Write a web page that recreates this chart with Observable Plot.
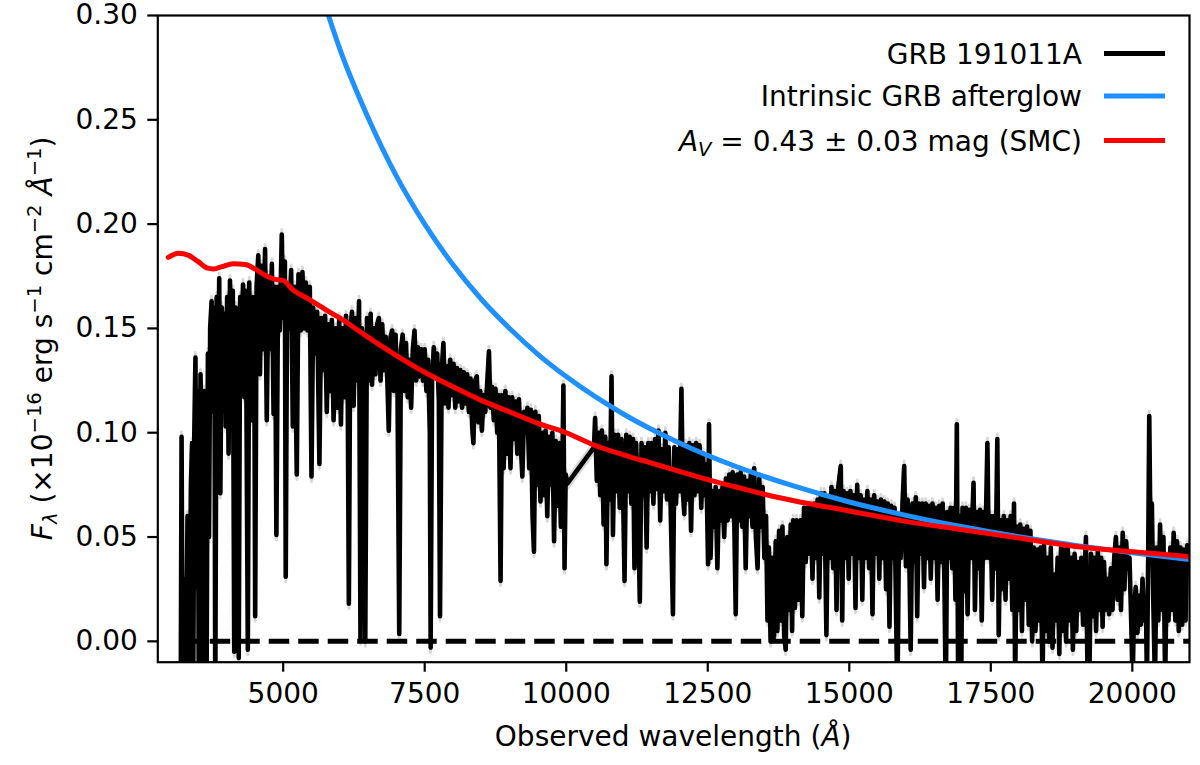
<!DOCTYPE html>
<html><head><meta charset="utf-8">
<script src="https://cdn.jsdelivr.net/npm/d3@7"></script>
<script src="https://cdn.jsdelivr.net/npm/@observablehq/plot@0.6"></script>
<style>html,body{margin:0;padding:0;background:#fff;overflow:hidden} svg{display:block}</style>
</head><body><div id="chart"></div>
<script>
const xTicks = [5000, 7500, 10000, 12500, 15000, 17500, 20000];
const yTicks = [0, 0.05, 0.10, 0.15, 0.20, 0.25, 0.30];

// Observed spectrum [wavelength (Å), flux]: UVB, VIS and NIR arms
const uvbArm = [[3190,-0.03],[3205,0.098],[3225,-0.03],[3250,0.03],[3280,-0.03],[3310,0.06],[3340,-0.03],[3370,0.075],[3390,0.095],[3410,-0.03],[3430,0.10],[3450,0.136],[3470,0.026],[3490,0.12],[3510,-0.03],[3540,0.128],[3560,0.09],[3580,-0.03],[3600,0.12],[3620,0.10],[3645,-0.03],[3670,0.138],[3690,0.05],[3710,0.15],[3735,0.163],[3760,0.11],[3785,0.16],[3800,-0.03],[3825,0.165],[3850,0.12],[3870,0.174],[3890,0.071],[3915,0.16],[3945,0.12],[3965,0.157],[3985,0.103],[4010,0.165],[4035,0.09],[4060,0.173],[4085,0.13],[4110,0.168],[4135,-0.005],[4160,0.16],[4180,0.12],[4200,0.159],[4215,-0.008],[4240,0.165],[4265,0.14],[4290,0.171],[4315,0.117],[4340,0.168],[4375,-0.004],[4400,0.172],[4430,0.106],[4460,0.165],[4490,0.14],[4505,0.012],[4530,0.17],[4560,0.185],[4590,0.128],[4620,0.18],[4650,0.14],[4680,0.188],[4710,0.106],[4740,0.175],[4770,0.14],[4800,0.181],[4830,0.109],[4855,0.17],[4880,0.051],[4910,0.17],[4940,0.149],[4975,0.195],[5000,0.155],[5030,0.182],[5045,0.031],[5070,0.17],[5100,0.15],[5140,0.178],[5170,0.103],[5200,0.17],[5240,0.080],[5270,0.176],[5310,0.149],[5340,0.177],[5370,0.15],[5400,0.172],[5430,0.149],[5470,0.17],[5500,0.079],[5530,0.160],[5560,0.138],[5600,0.158]];
const visArm = [[5640,0.085],[5670,0.155],[5700,0.13],[5740,0.156],[5770,0.11],[5800,0.152],[5830,0.12],[5860,0.154],[5890,0.106],[5930,0.150],[5960,0.112],[5990,0.155],[6020,0.104],[6050,0.150],[6080,0.117],[6110,0.156],[6140,0.120],[6160,0.018],[6185,0.150],[6215,0.158],[6245,0.113],[6275,0.155],[6310,0.125],[6340,0.163],[6365,0.001],[6390,0.150],[6420,0.140],[6450,0.000],[6480,0.155],[6510,0.125],[6545,0.157],[6570,0.123],[6600,0.150],[6630,0.128],[6660,0.152],[6690,0.155],[6720,0.125],[6750,0.152],[6780,0.130],[6810,0.146],[6840,0.125],[6865,0.101],[6895,0.146],[6925,0.149],[6955,0.12],[6985,0.147],[7020,0.118],[7050,0.0035],[7080,0.14],[7110,0.147],[7140,0.12],[7170,0.143],[7200,0.117],[7230,0.135],[7260,0.112],[7290,0.14],[7320,0.149],[7350,0.125],[7380,0.141],[7410,0.127],[7440,0.14],[7470,0.125],[7500,0.14],[7530,0.12],[7560,0.135],[7590,0.10],[7605,-0.003],[7630,0.125],[7660,0.141],[7690,0.128],[7720,0.138],[7750,0.115],[7770,0.012],[7800,0.130],[7830,0.143],[7860,0.114],[7890,0.132],[7920,0.112],[7950,0.135],[7980,0.118],[8010,0.133],[8040,0.112],[8070,0.131],[8100,0.115],[8130,0.130],[8160,0.112],[8190,0.129],[8220,0.114],[8250,0.128],[8280,0.110],[8310,0.126],[8340,0.102],[8360,0.095],[8390,0.125],[8420,0.127],[8450,0.105],[8480,0.120],[8510,0.101],[8540,0.118],[8570,0.110],[8600,0.122],[8635,0.139],[8660,0.112],[8690,0.122],[8720,0.106],[8750,0.121],[8780,0.100],[8810,0.118],[8840,0.029],[8865,0.118],[8895,0.083],[8925,0.120],[8955,0.090],[8985,0.117],[9015,0.083],[9045,0.117],[9075,0.097],[9105,0.115],[9135,0.090],[9165,0.116],[9195,0.095],[9225,0.079],[9255,0.110],[9285,0.100],[9315,0.112],[9345,0.083],[9375,0.111],[9405,0.060],[9430,0.043],[9455,0.110],[9485,0.075],[9515,0.108],[9545,0.067],[9575,0.100],[9605,0.070],[9635,0.101],[9665,0.060],[9695,0.098],[9725,0.075],[9755,0.100],[9785,0.048],[9815,0.096],[9845,0.065],[9875,0.095],[9905,0.055],[9935,0.090],[9950,0.1226],[9970,0.035],[9990,0.080],[10019,0.0756]];
const nirArm = [[10490,0.093],[10510,0.107],[10540,0.077],[10570,0.100],[10600,0.070],[10630,0.101],[10660,0.056],[10690,0.098],[10710,0.037],[10740,0.095],[10770,0.068],[10800,0.127],[10825,0.051],[10855,0.099],[10885,0.072],[10915,0.099],[10945,0.064],[10975,0.097],[11005,0.070],[11030,0.029],[11060,0.099],[11090,0.072],[11120,0.098],[11150,0.066],[11180,0.097],[11205,0.035],[11235,0.095],[11265,0.068],[11300,0.019],[11330,0.095],[11360,0.070],[11390,0.093],[11420,0.045],[11450,0.095],[11480,0.072],[11510,0.095],[11540,0.066],[11570,0.097],[11600,0.073],[11630,0.101],[11660,0.058],[11690,0.092],[11720,0.072],[11750,0.100],[11780,0.068],[11810,0.093],[11840,0.070],[11885,0.013],[11910,0.093],[11940,0.066],[11970,0.092],[12000,0.072],[12035,0.121],[12060,0.072],[12085,0.061],[12115,0.094],[12145,0.068],[12175,0.095],[12205,0.053],[12235,0.094],[12265,0.070],[12295,0.095],[12325,0.072],[12355,0.094],[12385,0.064],[12415,0.090],[12445,0.070],[12475,0.085],[12505,0.037],[12522,0.104],[12550,0.040],[12580,0.072],[12610,0.055],[12640,0.074],[12670,0.035],[12700,0.072],[12730,0.058],[12760,0.074],[12790,0.050],[12820,0.078],[12850,0.058],[12880,0.080],[12910,0.060],[12940,0.081],[12970,0.055],[12994,0.013],[13020,0.080],[13050,0.058],[13080,0.081],[13110,0.055],[13140,0.079],[13170,0.035],[13200,0.077],[13230,0.060],[13260,0.080],[13290,0.055],[13320,0.083],[13350,0.050],[13380,0.035],[13410,0.078],[13440,0.055],[13470,0.074],[13500,0.040],[13530,0.060],[13555,0.010],[13580,0.045],[13610,0.000],[13640,0.040],[13670,0.002],[13700,0.048],[13730,0.005],[13760,0.053],[13790,0.010],[13820,0.055],[13850,0.003],[13877,-0.004],[13905,0.050],[13935,0.015],[13965,0.056],[13990,0.005],[14010,0.058],[14040,0.016],[14070,0.058],[14100,0.020],[14140,0.058],[14170,0.012],[14200,0.064],[14230,0.038],[14260,0.064],[14290,0.042],[14320,0.065],[14350,0.030],[14380,0.066],[14410,0.040],[14440,0.068],[14470,0.021],[14500,0.071],[14530,0.042],[14560,0.071],[14596,0.003],[14625,0.068],[14655,0.040],[14685,0.074],[14715,0.035],[14745,0.072],[14775,0.015],[14805,0.074],[14850,0.084],[14875,0.010],[14900,0.072],[14930,0.040],[14960,0.071],[14990,0.030],[15020,0.072],[15050,0.042],[15080,0.070],[15110,0.016],[15140,0.075],[15170,0.040],[15200,0.070],[15230,0.020],[15260,0.068],[15290,0.040],[15320,0.072],[15350,0.035],[15380,0.068],[15410,0.013],[15440,0.070],[15470,0.042],[15500,0.067],[15530,0.030],[15560,0.068],[15590,0.040],[15620,0.067],[15650,0.025],[15680,0.066],[15710,0.007],[15740,0.065],[15770,0.040],[15800,0.064],[15850,-0.03],[15880,0.060],[15910,0.040],[15940,0.066],[15970,0.084],[16000,0.036],[16030,0.068],[16060,0.040],[16085,-0.004],[16115,0.066],[16145,0.038],[16175,0.069],[16200,0.012],[16230,0.066],[16260,0.042],[16290,0.066],[16320,0.026],[16350,0.066],[16380,0.040],[16410,0.065],[16440,0.030],[16470,0.066],[16500,0.040],[16530,0.064],[16560,0.020],[16590,0.065],[16620,0.038],[16650,0.066],[16680,0.030],[16705,-0.03],[16730,0.062],[16760,0.040],[16790,0.064],[16820,0.035],[16850,0.064],[16875,0.020],[16900,0.104],[16925,-0.03],[16950,0.060],[16975,-0.03],[17000,0.064],[17030,0.024],[17060,0.064],[17090,0.013],[17120,0.063],[17150,0.040],[17195,0.076],[17220,0.015],[17250,0.062],[17280,0.035],[17310,0.063],[17340,0.010],[17370,0.062],[17400,0.040],[17440,0.095],[17465,0.040],[17495,0.060],[17525,0.020],[17555,0.060],[17585,0.035],[17615,0.097],[17640,0.003],[17670,0.058],[17700,0.025],[17730,0.060],[17760,0.020],[17790,0.058],[17820,0.030],[17850,0.060],[17880,0.015],[17910,0.066],[17930,-0.02],[17960,0.055],[17990,0.015],[18020,0.056],[18050,0.005],[18080,0.054],[18110,0.020],[18140,0.055],[18170,0.008],[18200,0.053],[18230,0.000],[18260,0.045],[18290,0.005],[18320,0.044],[18350,0.010],[18380,0.045],[18414,-0.02],[18440,0.046],[18470,0.005],[18500,0.040],[18530,0.000],[18560,0.045],[18590,-0.003],[18620,0.032],[18650,0.010],[18680,0.040],[18710,-0.006],[18740,0.045],[18770,0.005],[18800,0.044],[18830,0.000],[18860,0.045],[18890,0.010],[18920,0.040],[18950,-0.004],[18980,0.042],[19010,0.005],[19040,0.038],[19070,0.015],[19100,0.040],[19130,0.008],[19180,0.050],[19210,-0.02],[19240,-0.02],[19270,0.042],[19300,0.012],[19330,0.040],[19360,0.005],[19390,0.043],[19420,0.015],[19450,0.040],[19475,0.007],[19500,0.038],[19530,0.015],[19560,0.030],[19590,0.013],[19620,0.035],[19650,0.015],[19680,0.040],[19710,0.050],[19740,0.020],[19770,0.045],[19800,0.015],[19830,0.052],[19860,0.025],[19890,0.048],[19920,0.035],[19950,0.040],[19980,0.010],[20005,-0.02],[20030,0.015],[20060,0.026],[20090,0.004],[20120,0.022],[20150,0.008],[20180,0.030],[20210,0.010],[20240,0.020],[20258,-0.02],[20280,0.040],[20299,0.108],[20320,0.050],[20345,0.066],[20370,0.020],[20400,-0.02],[20430,0.045],[20460,0.010],[20490,0.056],[20520,0.015],[20550,0.050],[20580,-0.02],[20610,0.040],[20640,0.010],[20670,0.045],[20700,0.015],[20730,0.052],[20760,0.010],[20790,0.048],[20820,0.005],[20850,0.045],[20880,0.008],[20910,0.044],[20940,0.010],[20970,0.046],[21000,0.040]];

// Model curves [wavelength (Å), flux]
const afterglowModel = [[5500,0.326],[5800,0.300],[6000,0.284],[6500,0.251],[7000,0.223],[7500,0.200],[8000,0.1805],[8500,0.164],[9000,0.150],[9500,0.1376],[10000,0.1269],[11000,0.1091],[12000,0.0951],[13000,0.0838],[14000,0.0746],[15000,0.0668],[16000,0.0604],[17000,0.0549],[18000,0.0501],[19000,0.046],[20000,0.0424],[21000,0.0393]];
const smcModel = [[2970,0.184],[3150,0.186],[3330,0.185],[3500,0.182],[3650,0.179],[3770,0.1785],[3915,0.1796],[4120,0.181],[4330,0.1806],[4500,0.1785],[4680,0.1755],[4860,0.1735],[5000,0.173],[5150,0.169],[5450,0.164],[5750,0.159],[6000,0.155],[6430,0.147],[7000,0.137],[7500,0.129],[8000,0.122],[8500,0.1155],[9000,0.110],[9500,0.1045],[10000,0.100],[10500,0.094],[11000,0.0895],[11500,0.0855],[12000,0.0815],[12500,0.0775],[13000,0.0740],[13500,0.0705],[14000,0.0675],[15000,0.0625],[16000,0.0575],[17000,0.0535],[18000,0.0495],[19000,0.0455],[20000,0.043],[21000,0.0406]];

const seriesNames = ["GRB 191011A", "Intrinsic GRB afterglow", "SMC"];
const seriesColors = ["#000000", "#1E90FF", "#FF0000"];

const spectrum = [...uvbArm, ...visArm, ...nirArm].map(([w, f]) => ({w, f}));
const afterglow = afterglowModel.map(([w, f]) => ({w, f}));
const smc = smcModel.map(([w, f]) => ({w, f}));

const W = 1200, H = 765, mL = 157.3, mR = 11, mT = 15, mB = 103.3;
const xDomain = [2785, 21010];

const chart = Plot.plot({
  width: W, height: H,
  marginLeft: mL, marginRight: mR, marginTop: mT, marginBottom: mB,
  style: {fontFamily: "DejaVu Sans", fontSize: "28px", background: "white", color: "black", overflow: "visible"},
  x: {domain: xDomain},
  y: {domain: [-0.01, 0.30]},
  marks: [
    Plot.line(spectrum, {x: "w", y: "f", stroke: "#d9d9d9", strokeWidth: 3, dy: -5, clip: true}),
    Plot.line(spectrum, {x: "w", y: "f", stroke: "#d9d9d9", strokeWidth: 3, dy: 5, clip: true}),
    Plot.line(spectrum, {x: "w", y: "f", stroke: seriesColors[0], strokeWidth: 4.6, clip: true}),
    Plot.ruleY([0], {x1: spectrum[0].w, x2: xDomain[1], stroke: "black", strokeWidth: 5, strokeDasharray: "20.5,9", clip: true}),
    Plot.line(afterglow, {x: "w", y: "f", stroke: seriesColors[1], strokeWidth: 5, curve: "monotone-x", clip: true}),
    Plot.line(smc, {x: "w", y: "f", stroke: seriesColors[2], strokeWidth: 5, curve: "monotone-x", clip: true}),
    Plot.frame({stroke: "black", strokeWidth: 2.2}),
    Plot.axisX(xTicks, {tickSize: 10, tickPadding: 11, strokeWidth: 2.2, tickFormat: "d", label: null}),
    Plot.axisY(yTicks, {tickSize: 10, tickPadding: 10, strokeWidth: 2.2, tickFormat: ".2f", label: null})
  ]
});
document.getElementById("chart").appendChild(chart);

const svg = d3.select(chart);
const ink = "black";

// x axis label
const xl = svg.append("text").attr("x", (mL + W - mR) / 2).attr("y", 746)
  .attr("text-anchor", "middle").attr("font-size", 28).attr("fill", ink);
xl.append("tspan").text("Observed wavelength (");
xl.append("tspan").attr("font-style", "italic").text("Å");
xl.append("tspan").text(")");

// y axis label: pieces with a vertical offset (0 = baseline, <0 raised, >0 lowered) and size
const cy = (mT + H - mB) / 2;
const yl = svg.append("text").attr("transform", `translate(52,${cy}) rotate(-90)`)
  .attr("text-anchor", "middle").attr("font-size", 28).attr("fill", ink);
const yPieces = [
  ["F", 0, 28, true], ["λ", 5, 19.6, true], [" (×10", 0, 28, false], ["−16", -11, 19.6, false],
  [" erg s", 0, 28, false], ["−1", -11, 19.6, false], [" cm", 0, 28, false], ["−2", -11, 19.6, false],
  [" ", 0, 28, false], ["Å", 0, 28, true], ["−1", -11, 19.6, false], [")", 0, 28, false]
];
let curOff = 0;
yPieces.forEach(([t, off, fs, it]) => {
  const ts = yl.append("tspan").attr("font-size", fs).attr("dy", off - curOff).text(t);
  if (it) ts.attr("font-style", "italic");
  curOff = off;
});

// legend
const legY = [53.4, 96, 140.5];
const lg = svg.append("g");
legY.forEach((y, i) => {
  lg.append("line").attr("x1", 1104).attr("x2", 1165).attr("y1", y).attr("y2", y)
    .attr("stroke", seriesColors[i]).attr("stroke-width", 5);
  const t = lg.append("text").attr("x", 1082).attr("y", y + 10.3).attr("text-anchor", "end")
    .attr("font-size", 28).attr("fill", ink);
  if (i < 2) {
    t.text(seriesNames[i]);
  } else {
    t.append("tspan").attr("font-style", "italic").text("A");
    t.append("tspan").attr("font-style", "italic").attr("font-size", 19.6).attr("dy", 5).text("V");
    t.append("tspan").attr("dy", -5).text(" = 0.43 ± 0.03 mag (" + seriesNames[i] + ")");
  }
});
</script>
</body></html>
